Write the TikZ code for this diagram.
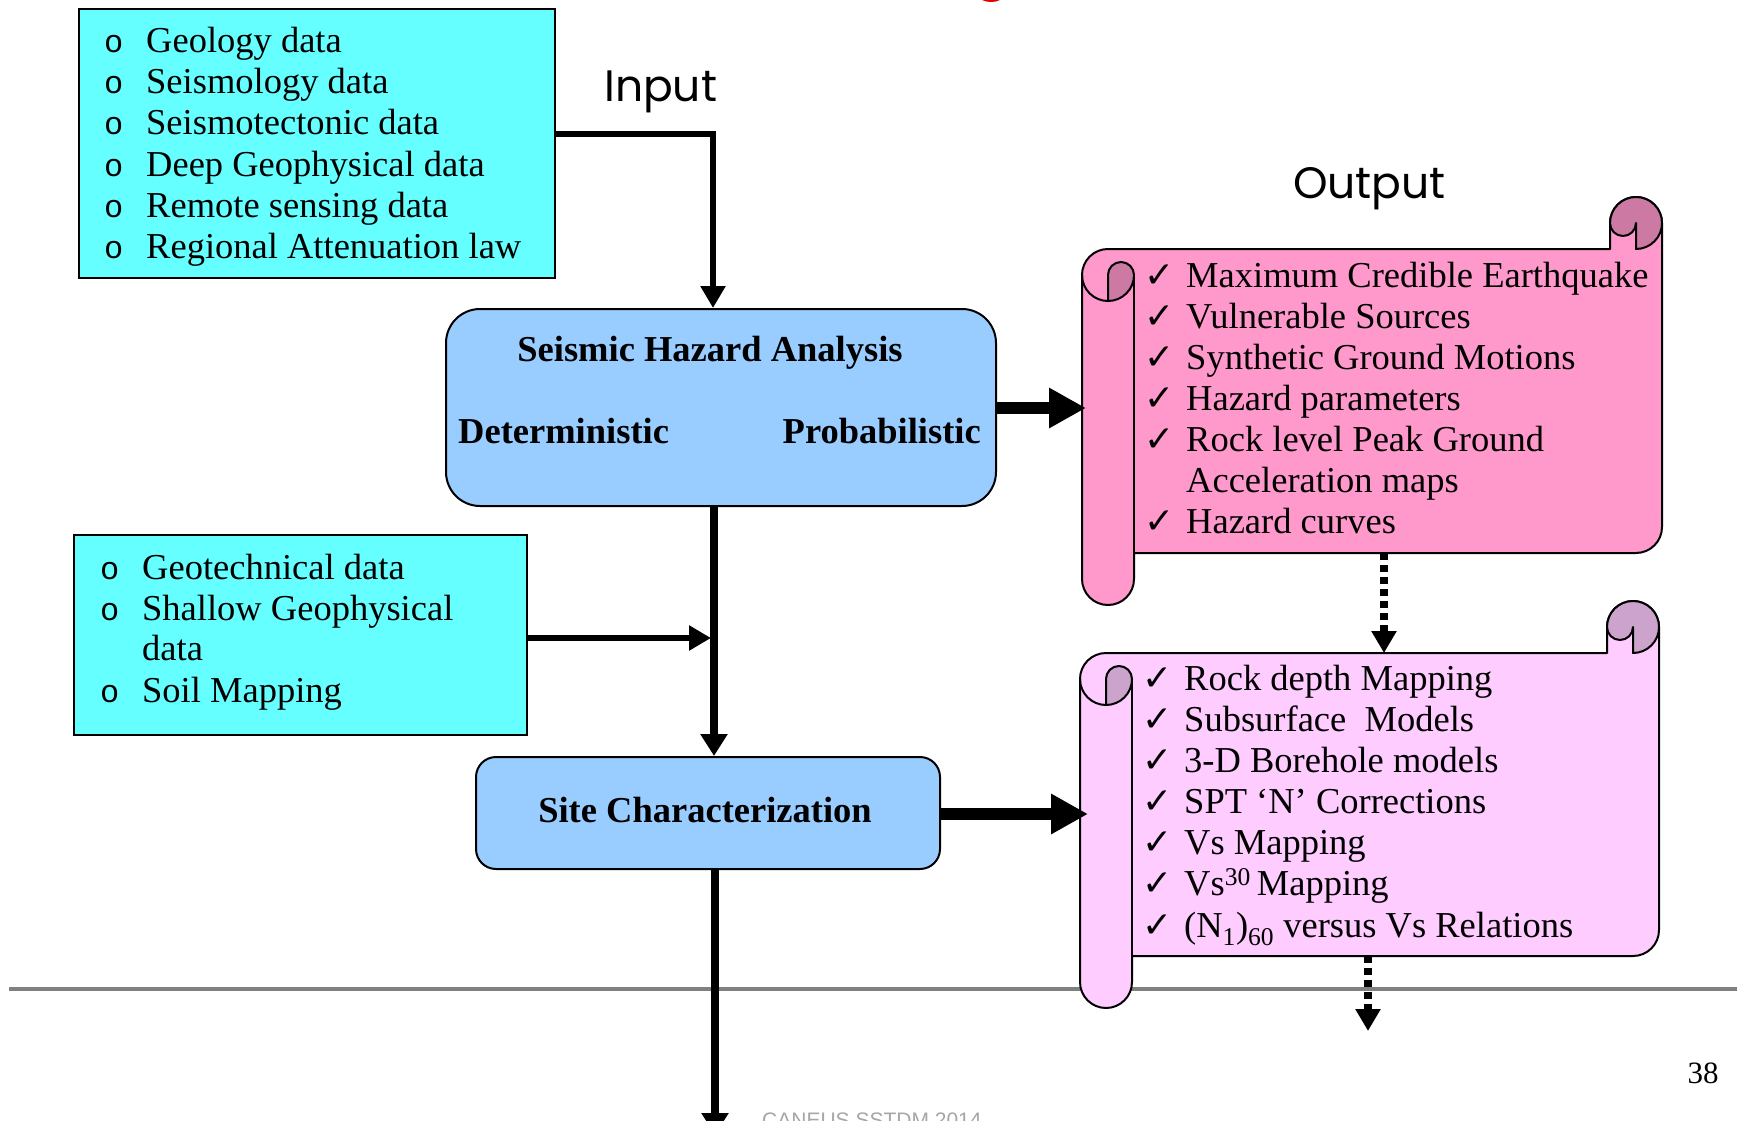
\documentclass[tikz,border=0pt]{standalone}
\usepackage{fontspec}
\setmainfont{Liberation Serif}
\newfontfamily\chkfont{DejaVu Sans}
\newfontfamily\bulfont{Liberation Mono}
\newfontfamily\headfont{Poppins}
\newfontfamily\footfont{Liberation Sans}
\usetikzlibrary{arrows.meta}
\definecolor{cyanfill}{HTML}{66FFFF}
\definecolor{bluefill}{HTML}{99CCFF}
\definecolor{pinkA}{HTML}{FF99CC}
\definecolor{pinkAdark}{HTML}{CC7AA3}
\definecolor{pinkB}{HTML}{FFCCFF}
\definecolor{pinkBdark}{HTML}{CCA3CC}
\definecolor{rulegray}{HTML}{808080}
\definecolor{footgray}{HTML}{A6A6A6}
\definecolor{titlered}{HTML}{E00000}

% #1 left, #2 top, #3 right, #4 bottom (pixel coords, y down), #5 fill, #6 curl fill
\newcommand\drawscroll[6]{%
  \pgfmathsetmacro\sL{#1}\pgfmathsetmacro\sT{-#2}%
  \pgfmathsetmacro\sR{#3}\pgfmathsetmacro\sB{-#4}%
  \def\rr{26}\def\rh{13}%
  \filldraw[scrollline, fill=#5]
    ({\sL+\rr},{\sT}) -- ({\sR-2*\rr},{\sT}) -- ({\sR-2*\rr},{\sT+\rr})
    arc[start angle=180,end angle=0,radius=\rr] -- ({\sR},{\sB+\rr})
    arc[start angle=0,end angle=-90,radius=\rr] -- ({\sL+2*\rr},{\sB})
    -- ({\sL+2*\rr},{\sB-\rr})
    arc[start angle=0,end angle=-180,radius=\rr] -- ({\sL},{\sT-\rr})
    arc[start angle=180,end angle=90,radius=\rr] -- cycle;
  \draw[scrollline] ({\sL+2*\rr},{\sT-\rr}) -- ({\sL+2*\rr},{\sB});
  \draw[scrollline] ({\sL},{\sT-\rr}) arc[start angle=180,end angle=270,radius=\rr];
  \filldraw[scrollline, fill=#6] ({\sL+\rr},{\sT-\rr})
    arc[start angle=180,end angle=0,radius=\rh]
    arc[start angle=0,end angle=-90,radius=\rr] -- cycle;
  \filldraw[scrollline, fill=#6] ({\sR-2*\rr},{\sT+\rr})
    arc[start angle=180,end angle=-90,radius=\rr] -- ({\sR-\rr},{\sT+\rr})
    arc[start angle=0,end angle=-180,radius=\rh] -- cycle;
}

\begin{document}
\begin{tikzpicture}[x=1pt,y=1pt,
  scrollline/.style={line width=2pt, line join=round},
  cyanbox/.style={draw, line width=2pt, fill=cyanfill, anchor=north west, inner sep=0pt},
  bluebox/.style={draw, line width=2pt, fill=bluefill, anchor=north west, inner sep=0pt, rounded corners=#1},
  txt/.style={font=\fontsize{36.5}{41}\selectfont, inner sep=0pt, anchor=base west},
  btxt/.style={font=\bfseries\fontsize{36.5}{41}\selectfont, inner sep=0pt, anchor=base},
  bul/.style={font=\bulfont\fontsize{32}{41}\selectfont, inner sep=0pt, anchor=base west},
  chk/.style={font=\chkfont\fontsize{36}{41}\selectfont, inner sep=0pt, anchor=base west},
  head/.style={font=\headfont\fontsize{44}{50}\selectfont, inner sep=0pt, anchor=base west},
  flowarrow/.style={line width=6pt, -{Triangle[length=22pt,width=24pt]}},
  mainarrow/.style={line width=8pt, -{Triangle[length=22pt,width=26pt]}},
  fatarrow/.style={line width=12pt, -{Triangle[length=37pt,width=38pt]}},
  dotarrow/.style={line width=8pt, dash pattern=on 7pt off 5pt, -{Triangle[length=22pt,width=24pt]}}
]
\useasboundingbox (0,0) rectangle (1741,-1121);

% red remnant of the slide title
\fill[titlered] (991,4) ellipse [x radius=12, y radius=6];

% grey separator rule
\draw[rulegray, line width=4pt] (9,-989) -- (1737,-989);

% ---------- input box 1 ----------
\node[cyanbox, minimum width=476pt, minimum height=269pt] (in1) at (78,-8) {};
\foreach \t [count=\i] in {Geology data, Seismology data, Seismotectonic data,
    Deep Geophysical data, Remote sensing data, Regional Attenuation law}{
  \pgfmathsetmacro\yy{-53-41*(\i-1)}
  \node[bul] (in1b\i) at (104,\yy) {o};
  \node[txt] (in1t\i) at (146,\yy) {\t};
}

% ---------- geotechnical box ----------
\node[cyanbox, minimum width=453pt, minimum height=200pt] (geo) at (73,-534) {};
\node[bul] (geob1) at (100,-579) {o};
\node[txt] (geot1) at (142,-579) {Geotechnical data};
\node[bul] (geob2) at (100,-620) {o};
\node[txt] (geot2) at (142,-620) {Shallow Geophysical};
\node[txt] (geot3) at (142,-660) {data};
\node[bul] (geob4) at (100,-702) {o};
\node[txt] (geot4) at (142,-702) {Soil Mapping};

% ---------- headings ----------
\node[head] (inputlbl) at (604,-102) {Input};
\node[head] (outputlbl) at (1293,-198) {Output};

% ---------- SHA box ----------
\node[bluebox=34pt, minimum width=550pt, minimum height=197pt] (sha) at (445,-308) {};
\node[btxt] (shat) at (710,-361) {Seismic Hazard Analysis};
\node[btxt, anchor=base west] (det) at (458,-443) {Deterministic};
\node[btxt, anchor=base east] (prob) at (981,-443) {Probabilistic};

% ---------- Site characterization box ----------
\node[bluebox=20pt, minimum width=464pt, minimum height=112pt] (site) at (475,-756) {};
\node[btxt] (sitet) at (705,-822) {Site Characterization};

% ---------- scrolls ----------
\drawscroll{1082}{249}{1662}{553}{pinkA}{pinkAdark}
\drawscroll{1080}{653}{1659}{956}{pinkB}{pinkBdark}
\coordinate (s1left) at (1086,-408);
\coordinate (s1bot) at (1384,-553);
\coordinate (s2top) at (1384,-653);
\coordinate (s2left) at (1088,-814);
\coordinate (s2bot) at (1368,-956);
\coordinate (s2out) at (1368,-1031);

\foreach \t/\y/\c [count=\i] in {Maximum Credible Earthquake/287/1, Vulnerable Sources/328/1,
    Synthetic Ground Motions/369/1, Hazard parameters/410/1, Rock level Peak Ground/451/1,
    Acceleration maps/492/0, Hazard curves/533/1}{
  \ifnum\c=1 \node[chk] (s1c\i) at (1144,-\y) {✓};\fi
  \node[txt] (s1t\i) at (1186,-\y) {\t};
}
\foreach \t/\y [count=\i] in {Rock depth Mapping/690, Subsurface\ \ Models/731,
    3-D Borehole models/772, SPT ‘N’ Corrections/813, Vs Mapping/854,
    Vs\textsuperscript{30}\,Mapping/895, (N\textsubscript{1})\textsubscript{60} versus Vs Relations/937}{
  \node[chk] (s2c\i) at (1142,-\y) {✓};
  \node[txt] (s2t\i) at (1184,-\y) {\t};
}

% ---------- connectors ----------
\coordinate (inbend) at (713,-134);
\draw[flowarrow] (in1.east |- inbend) -- (inbend) -- (sha.north -| inbend);
\draw[mainarrow] (sha.south -| 714,0) -- (site.north -| 714,0);
\draw[flowarrow] (geo.east |- 0,-638) -- (711,-638);
\draw[fatarrow] (sha.east |- s1left) -- (s1left);
\draw[fatarrow] (site.east |- s2left) -- (s2left);
\draw[dotarrow] (s1bot) -- (s2top);
\draw[dotarrow] (s2bot) -- (s2out);
\coordinate (bottomout) at (715,-1135);
\draw[mainarrow] (site.south -| bottomout) -- (bottomout);

% ---------- footer ----------
\node[font=\footfont\fontsize{21}{25}\selectfont, text=footgray, inner sep=0pt, anchor=base west] (footer) at (762,-1127) {CANEUS SSTDM 2014};
\node[font=\fontsize{31}{36}\selectfont, inner sep=0pt, anchor=base] (pageno) at (1703,-1083) {38};
\end{tikzpicture}
\end{document}
